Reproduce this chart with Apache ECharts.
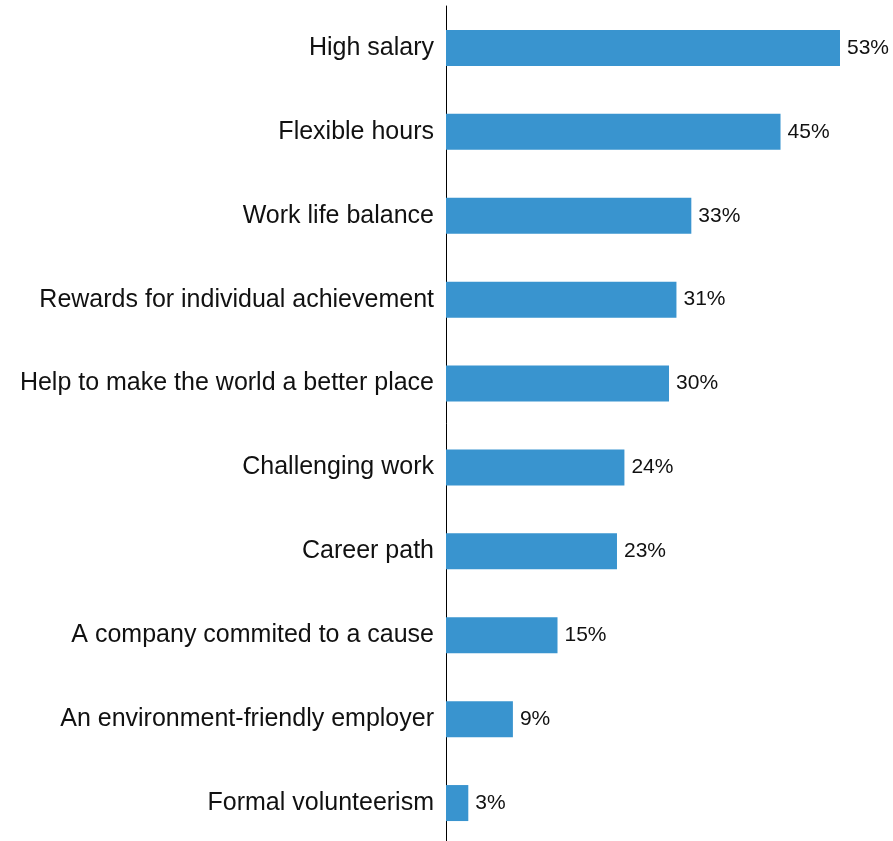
<!DOCTYPE html>
<html>
<head>
<meta charset="utf-8">
<script src="https://cdn.jsdelivr.net/npm/echarts@6/dist/echarts.min.js"></script>
<style>
  html, body { margin: 0; padding: 0; background: #ffffff; }
  #chart { width: 893px; height: 841px; }
</style>
</head>
<body>
<div id="chart"></div>
<script>
// What matters most to employees (share of respondents, %)
const categories = [
  'High salary',
  'Flexible hours',
  'Work life balance',
  'Rewards for individual achievement',
  'Help to make the world a better place',
  'Challenging work',
  'Career path',
  'A company commited to a cause',
  'An environment-friendly employer',
  'Formal volunteerism'
];
const shares = [53, 45, 33, 31, 30, 24, 23, 15, 9, 3];

const chart = echarts.init(document.getElementById('chart'), null, { renderer: 'canvas' });

chart.setOption({
  animation: false,
  backgroundColor: '#ffffff',
  textStyle: { fontFamily: '"Liberation Sans", Arial, sans-serif' },
  grid: {
    left: 446,
    top: 6,
    width: 394,
    height: 839,
    containLabel: false,
    outerBoundsMode: 'none'
  },
  xAxis: {
    type: 'value',
    min: 0,
    max: 53,
    show: false
  },
  yAxis: {
    type: 'category',
    inverse: true,
    data: categories,
    axisLine: { show: true, lineStyle: { color: '#000000', width: 1 } },
    axisTick: { show: false },
    splitLine: { show: false },
    axisLabel: {
      margin: 12,
      fontSize: 25,
      color: '#111111',
      fontFamily: '"Liberation Sans", Arial, sans-serif'
    }
  },
  series: [{
    type: 'bar',
    data: shares,
    barWidth: 36,
    itemStyle: { color: '#3994cf' },
    label: {
      show: true,
      position: 'right',
      distance: 7,
      fontSize: 21,
      color: '#111111',
      fontFamily: '"Liberation Sans", Arial, sans-serif',
      formatter: p => p.value + '%'
    }
  }]
});
</script>
</body>
</html>
